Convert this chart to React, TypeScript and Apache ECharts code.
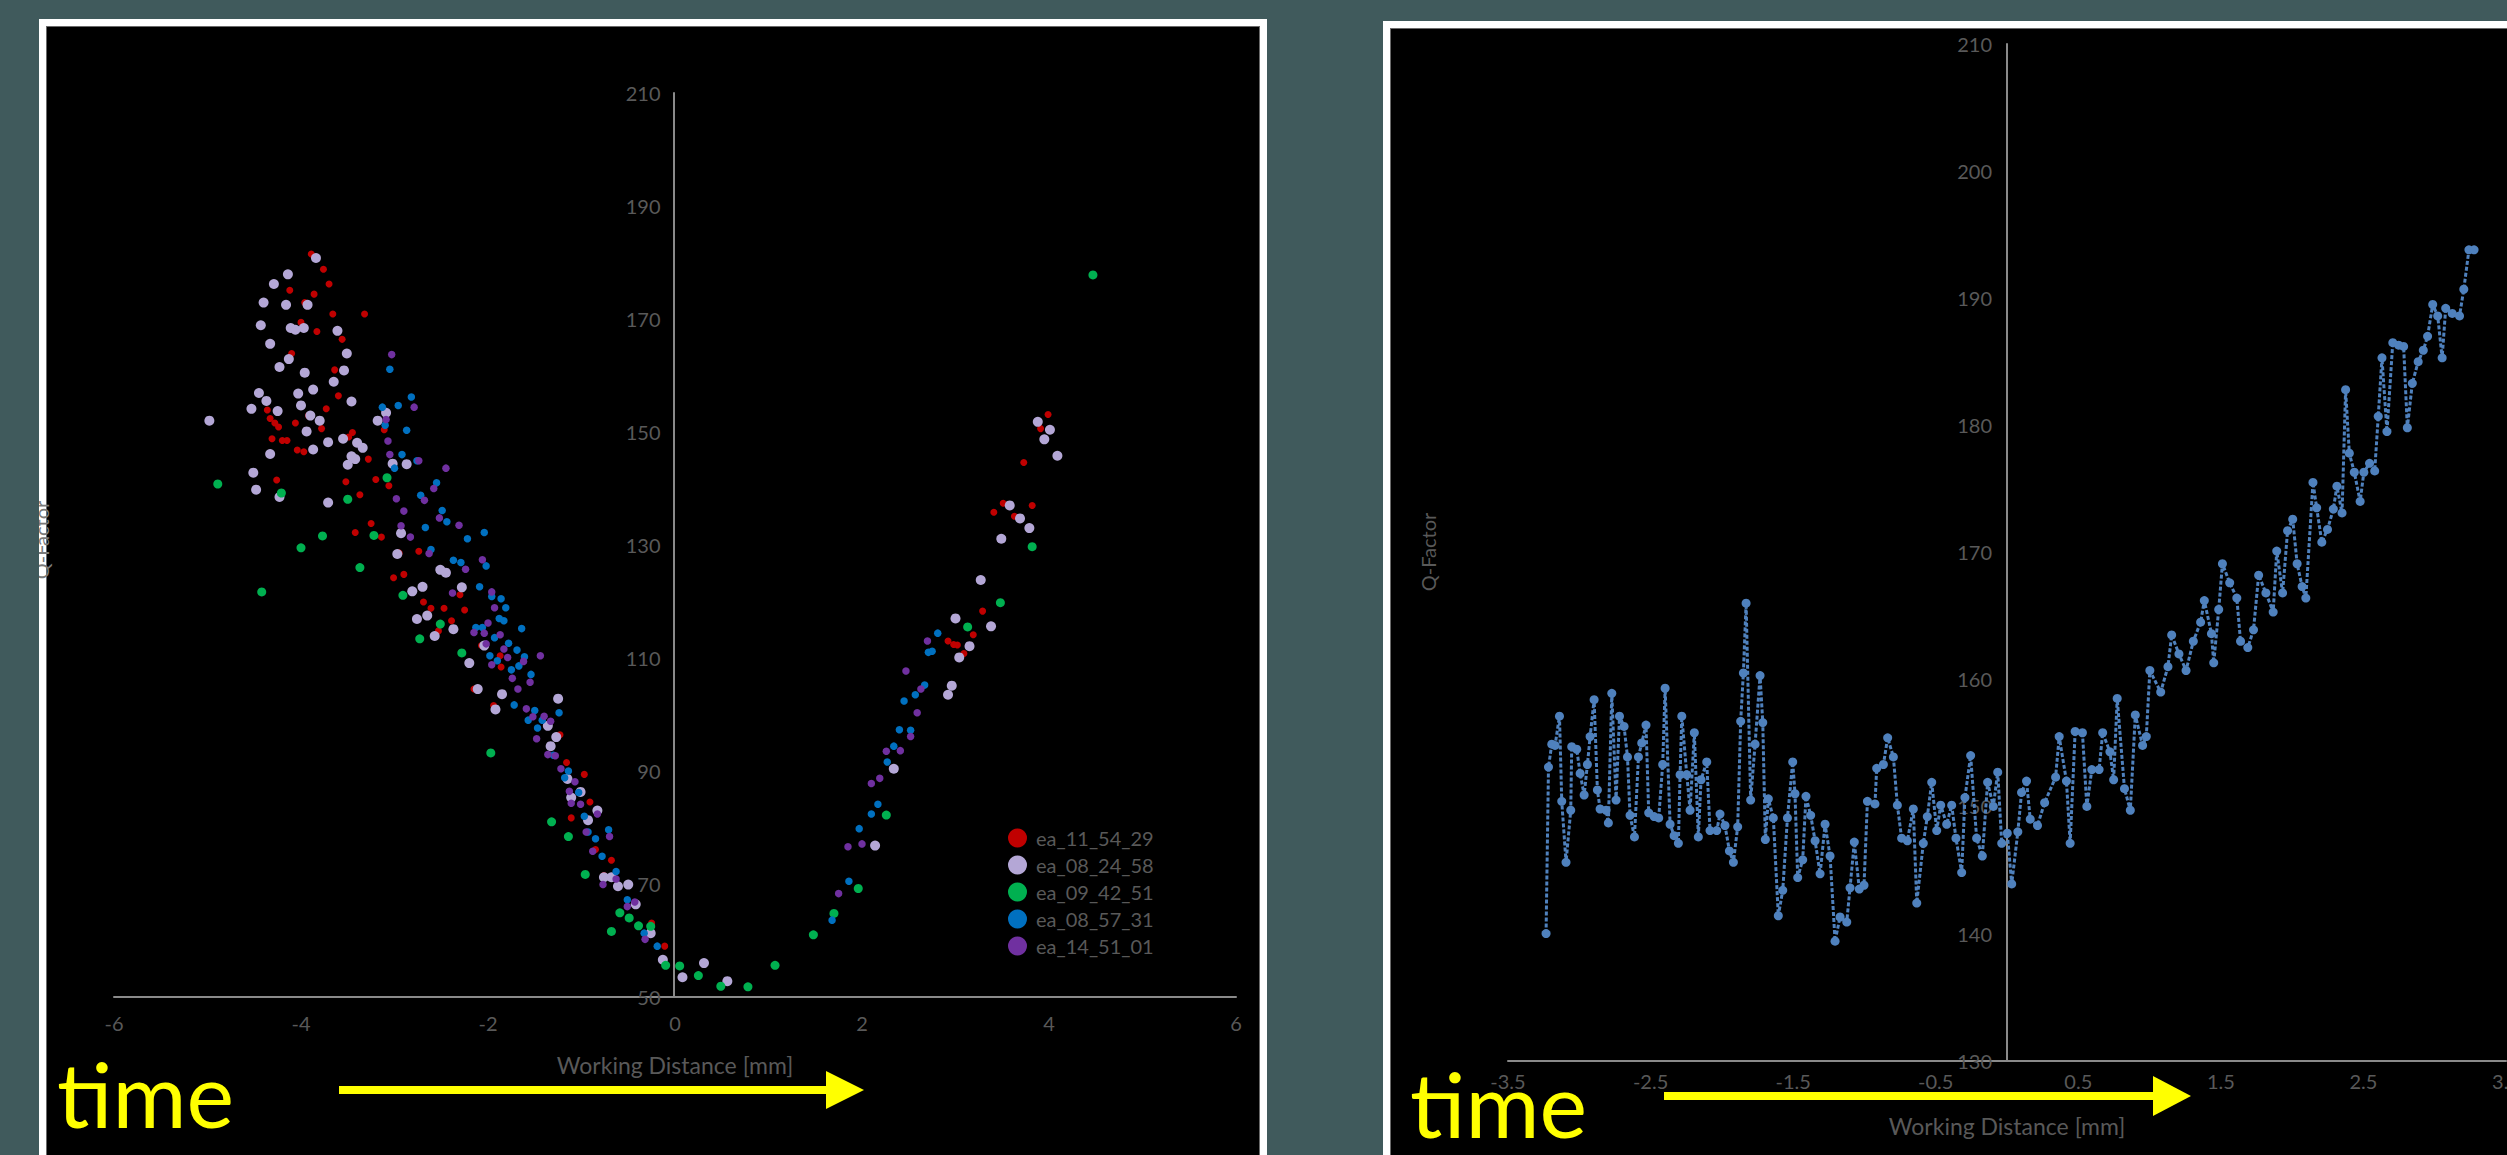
import React, { useEffect, useRef } from "react";
import * as echarts from "echarts";

// ---------- DATA ----------
const seriesNames = ["ea_11_54_29", "ea_08_24_58", "ea_09_42_51", "ea_08_57_31", "ea_14_51_01"];
const seriesColors = ["#c00000", "#b4a7d6", "#00b050", "#0070c0", "#7030a0"];

const ea_11_54_29: number[][] = [
  [-3.89,181.5],[-3.76,178.8],[-3.70,176.2],[-4.12,175.1],[-3.86,174.4],[-4.17,172.5],[-3.96,172.9],[-3.66,170.9],[-3.32,170.9],[-4.00,169.4],
  [-3.83,167.8],[-3.56,166.4],[-4.10,163.9],[-3.64,161.0],[-3.60,156.4],[-3.73,154.1],[-4.36,153.9],[-3.92,152.9],[-4.33,152.4],[-4.28,151.6],
  [-4.24,150.9],[-4.06,151.6],[-3.78,150.6],[-3.45,149.9],[-3.49,149.1],[-4.31,148.8],[-4.20,148.5],[-4.15,148.5],[-4.04,146.8],[-3.97,146.5],
  [-3.28,145.2],[-2.86,144.2],[-3.11,150.4],[-4.26,141.5],[-3.52,141.2],[-3.20,141.6],[-3.06,140.5],[-3.37,138.9],[-3.25,133.8],[-3.42,132.2],
  [-3.14,131.4],[-2.74,128.9],[-2.95,128.6],[-3.01,124.2],[-2.90,124.8],[-2.69,119.9],[-2.61,118.8],[-2.47,118.8],[-2.25,118.5],[-2.39,116.6],
  [-2.30,121.2],[-2.53,114.8],[-2.07,112.2],[-1.87,110.4],[-1.86,108.4],[-2.15,104.5],
  [-1.94,101.6],[-1.23,96.4],[-1.16,91.5],[-0.97,89.4],[-0.91,84.5],[-1.11,81.7],[-0.85,76.1],[-0.68,74.2],[-0.76,71.5],[-0.25,63.1],[-0.11,59.0],
  [3.99,153.1],[3.91,150.6],[3.73,144.6],[3.51,137.4],[3.41,135.8],[3.63,135.1],[3.82,137.0],[3.29,118.3],[3.19,114.1],[2.92,113.0],[2.98,112.4],[3.02,112.3],[3.09,110.8],
];

const ea_08_24_58: number[][] = [
  [-3.84,180.8],[-4.14,177.9],[-4.29,176.2],[-4.40,172.9],[-4.16,172.5],[-3.93,172.5],[-4.43,168.9],[-4.11,168.4],[-4.06,168.1],[-3.97,168.4],
  [-3.61,167.9],[-4.33,165.6],[-3.51,163.9],[-4.13,162.9],[-4.23,161.5],[-3.96,160.5],[-3.54,160.9],[-3.65,158.9],[-3.87,157.5],[-4.45,156.9],
  [-4.03,156.8],[-4.37,155.5],[-3.46,155.4],[-4.00,154.7],[-4.53,154.1],[-4.25,153.7],[-3.90,152.9],[-3.80,152.0],[-4.98,152.0],[-3.09,153.4],
  [-3.18,152.0],[-3.94,150.1],[-3.55,148.8],[-3.71,148.2],[-3.40,148.1],[-3.34,147.2],[-3.87,146.9],[-4.33,146.1],[-3.46,145.7],[-3.42,145.2],
  [-3.02,144.4],[-2.87,144.3],[-3.50,144.2],[-4.51,142.8],[-4.48,139.8],[-4.23,138.5],[-3.71,137.5],[-2.93,132.1],[-2.97,128.4],[-2.51,125.6],
  [-2.45,125.1],[-2.28,122.5],[-2.70,122.6],[-2.81,121.8],[-2.65,117.5],[-2.76,116.9],[-2.37,115.1],[-2.57,113.9],[-2.20,109.1],[-2.04,112.2],
  [-2.11,104.5],[-1.85,103.6],[-1.25,102.8],
  [-1.92,100.9],[-1.36,98.0],[-1.27,96.0],[-1.33,94.4],[-1.15,88.6],[-1.11,85.3],[-1.01,86.3],[-0.83,83.0],[-0.93,81.3],[-0.76,71.2],
  [-0.68,71.2],[-0.61,69.6],[-0.50,69.9],[-0.42,66.4],[-0.26,61.3],[-0.13,56.6],[0.08,53.5],[0.31,56.0],[0.56,52.8],
  [3.88,151.8],[4.01,150.4],[3.95,148.7],[4.09,145.8],[3.58,137.0],[3.69,134.7],[3.79,133.0],[3.49,131.1],[3.27,123.8],[3.00,117.0],
  [3.15,112.1],[3.38,115.6],[3.04,110.1],[2.96,105.1],[2.92,103.5],[2.34,90.4],[2.14,76.8],
];

const ea_09_42_51: number[][] = [
  [-4.89,140.8],[-4.21,139.2],[-3.08,141.9],[-3.50,138.1],[-3.77,131.6],[-4.00,129.5],[-3.22,131.7],[-3.37,126.0],[-4.42,121.7],[-2.91,121.1],
  [-2.51,116.0],[-2.73,113.4],[-2.28,110.9],
  [-1.97,93.2],[-1.32,81.0],[-1.14,78.4],[-0.96,71.7],[-0.68,61.6],[-0.59,64.9],[-0.49,64.0],[-0.39,62.6],[-0.26,62.5],[-0.10,55.6],
  [0.05,55.5],[0.25,53.8],[0.49,51.9],[0.78,51.8],
  [4.47,177.8],[3.82,129.7],[3.48,119.8],[3.13,115.5],[2.26,82.2],[1.96,69.2],[1.70,64.8],[1.48,61.0],[1.07,55.6],
];

const ea_08_57_31: number[][] = [
  [-3.05,161.1],[-2.82,156.2],[-2.96,154.7],[-3.13,154.4],[-3.10,151.2],[-2.87,150.3],[-2.92,146.0],[-3.00,143.6],[-2.76,144.9],[-2.55,141.0],
  [-2.72,138.8],[-2.49,136.1],[-2.44,134.1],[-2.67,133.1],[-2.04,132.2],[-2.22,131.1],[-2.61,129.2],[-2.37,127.3],[-2.29,126.9],[-2.02,126.3],
  [-2.09,122.6],[-1.96,120.9],[-1.86,120.5],[-1.81,118.9],[-1.88,117.0],[-1.83,116.6],[-1.64,115.2],[-2.13,115.4],[-2.06,115.4],[-1.93,113.6],
  [-1.78,112.6],[-1.69,111.4],[-1.98,110.4],[-1.90,109.5],[-1.61,110.2],[-1.67,108.6],[-1.75,107.9],[-1.54,107.1],
  [-1.72,101.7],[-1.50,100.7],[-1.24,100.3],[-1.57,99.0],[-1.47,97.6],[-1.42,99.0],[-1.30,92.8],[-1.14,90.0],[-1.18,88.8],[-1.03,86.2],
  [-0.97,82.0],[-0.93,79.2],[-0.85,78.0],[-0.71,79.6],[-0.78,74.9],[-0.63,72.2],[-0.51,67.2],[-0.33,61.3],[-0.19,59.0],
  [2.81,114.4],[2.75,111.2],[2.71,111.0],[2.67,105.2],[2.57,103.5],[2.45,102.4],[2.40,97.3],[2.52,97.2],[2.34,94.4],[2.27,91.6],
  [2.17,84.1],[2.10,82.4],[1.97,79.8],[1.86,70.5],[1.68,63.6],
];

const ea_14_51_01: number[][] = [
  [-3.03,163.7],[-2.79,154.4],[-3.09,152.2],[-3.07,148.4],[-3.05,146.0],[-2.74,144.9],[-2.45,143.6],[-2.58,140.0],[-2.68,137.9],[-2.98,138.2],
  [-2.90,136.0],[-2.52,134.8],[-2.31,133.5],[-2.93,133.4],[-2.83,131.4],[-2.63,128.5],[-2.06,127.4],[-2.24,125.7],[-2.38,121.5],[-1.96,121.7],
  [-1.93,118.9],[-2.00,116.2],[-1.87,114.1],[-2.15,114.5],[-2.04,114.4],[-2.02,112.5],[-1.83,111.6],[-1.44,110.4],[-1.96,108.8],[-1.79,110.1],
  [-1.62,109.4],[-1.74,106.4],[-1.55,105.7],[-1.68,104.5],
  [-1.59,101.0],[-1.52,99.6],[-1.40,99.7],[-1.33,98.8],[-1.48,95.7],[-1.36,92.9],[-1.28,92.7],[-1.22,90.4],[-1.07,88.1],[-1.13,86.4],
  [-1.11,84.3],[-1.01,84.1],[-0.83,82.4],[-0.95,79.2],[-0.70,78.4],[-0.88,75.8],[-0.77,69.9],[-0.63,70.9],[-0.43,66.8],[-0.51,66.0],[-0.32,60.2],
  [2.70,113.0],[2.47,107.7],[2.63,104.5],[2.59,100.3],[2.52,96.1],[2.41,93.6],[2.26,93.5],[2.19,88.7],[2.10,87.8],[2.00,77.1],[1.85,76.6],[1.75,68.3],
];

const qFactorTrace: number[][] = [
  [-3.233,140.0],[-3.216,153.1],[-3.193,154.9],[-3.170,154.8],[-3.139,157.1],[-3.123,150.4],[-3.093,145.6],[-3.060,149.7],[-3.053,154.7],[-3.018,154.5],
  [-2.994,152.6],[-2.966,150.9],[-2.943,153.3],[-2.924,155.5],[-2.896,158.4],[-2.873,151.3],[-2.854,149.8],[-2.812,149.7],[-2.796,148.7],[-2.772,158.9],
  [-2.742,150.5],[-2.718,157.1],[-2.686,156.3],[-2.662,153.9],[-2.644,149.3],[-2.613,147.6],[-2.585,153.9],[-2.562,155.0],[-2.532,156.4],[-2.513,149.5],
  [-2.475,149.2],[-2.443,149.1],[-2.415,153.3],[-2.398,159.3],[-2.363,148.6],[-2.335,147.7],[-2.305,147.1],[-2.293,152.5],[-2.281,157.1],[-2.246,152.5],
  [-2.223,149.7],[-2.193,155.8],[-2.165,147.6],[-2.146,152.1],[-2.106,153.5],[-2.083,148.1],[-2.036,148.1],[-2.013,149.4],[-1.978,148.5],[-1.947,146.5],
  [-1.919,145.6],[-1.889,148.4],[-1.868,156.7],[-1.849,160.5],[-1.830,166.0],[-1.798,150.5],[-1.767,154.9],[-1.732,160.3],[-1.713,156.6],[-1.695,147.4],
  [-1.674,150.6],[-1.639,149.1],[-1.604,141.4],[-1.573,143.4],[-1.540,149.1],[-1.503,153.5],[-1.487,151.0],[-1.468,144.4],[-1.433,145.8],[-1.410,150.8],
  [-1.377,149.3],[-1.346,147.3],[-1.311,144.7],[-1.276,148.6],[-1.241,146.1],[-1.206,139.4],[-1.171,141.3],[-1.124,140.9],[-1.101,143.6],[-1.071,147.2],
  [-1.036,143.5],[-1.003,143.8],[-0.979,150.4],[-0.926,150.2],[-0.914,153.0],[-0.867,153.3],[-0.837,155.4],[-0.797,153.9],[-0.769,150.1],[-0.739,147.5],
  [-0.699,147.3],[-0.657,149.8],[-0.633,142.4],[-0.587,147.1],[-0.559,149.2],[-0.528,151.9],[-0.493,148.1],[-0.465,150.1],[-0.423,148.6],[-0.388,150.1],
  [-0.358,147.5],[-0.318,144.8],[-0.295,150.7],[-0.255,154.0],[-0.213,147.5],[-0.173,146.1],[-0.136,151.9],[-0.096,150.0],[-0.065,152.7],[-0.037,147.1],
  [0.002,147.9],[0.033,143.9],[0.076,148.0],[0.102,151.1],[0.137,152.0],[0.163,149.0],[0.214,148.5],[0.264,150.3],[0.341,152.3],[0.366,155.5],
  [0.417,152.0],[0.443,147.1],[0.478,155.9],[0.529,155.8],[0.560,150.0],[0.595,152.9],[0.646,152.9],[0.671,155.8],[0.722,154.3],[0.748,152.1],
  [0.773,158.5],[0.824,151.4],[0.865,149.7],[0.900,157.2],[0.951,154.8],[0.977,155.5],[1.002,160.7],[1.078,159.0],[1.129,161.0],[1.155,163.5],
  [1.206,162.0],[1.256,160.7],[1.307,163.0],[1.358,164.5],[1.384,166.2],[1.434,163.6],[1.450,161.3],[1.485,165.5],[1.511,169.1],[1.562,167.6],
  [1.612,166.4],[1.638,163.0],[1.689,162.5],[1.729,163.9],[1.765,168.2],[1.816,166.8],[1.867,165.3],[1.892,170.1],[1.933,166.8],[1.968,171.7],
  [2.004,172.6],[2.035,169.1],[2.070,167.3],[2.096,166.4],[2.146,175.5],[2.172,173.5],[2.208,170.8],[2.248,171.8],[2.289,173.4],[2.314,175.2],
  [2.350,173.1],[2.375,182.8],[2.401,177.8],[2.436,176.3],[2.477,174.0],[2.503,176.3],[2.543,177.0],[2.579,176.4],[2.604,180.7],[2.630,185.3],
  [2.665,179.5],[2.706,186.5],[2.747,186.3],[2.782,186.2],[2.808,179.8],[2.843,183.3],[2.884,185.0],[2.920,185.9],[2.950,187.0],[2.986,189.5],
  [3.021,188.6],[3.052,185.3],[3.077,189.2],[3.123,188.8],[3.174,188.6],[3.204,190.7],[3.240,193.8],[3.276,193.8],
];

const scatterData = [ea_11_54_29, ea_08_24_58, ea_09_42_51, ea_08_57_31, ea_14_51_01];
const scatterSizes = [7, 10, 9, 7.5, 7.5];

// ---------- STYLES ----------
const BG = "#405a5c";
const LABEL = "#595959";
const AXIS = "#8a8a8a";
const FONT = "Lato, 'Open Sans', sans-serif";

function buildOption() {
  const tickLabel = (margin: number) => ({ color: LABEL, fontFamily: FONT, fontSize: 20, margin });
  const axisLine = (onZero: boolean) => ({ onZero, lineStyle: { color: AXIS, width: 2 } });
  return {
    animation: false,
    backgroundColor: "transparent",
    grid: [
      { left: 114, top: 93, width: 1122, height: 904, containLabel: false, outerBoundsMode: "none" },
      { left: 1508, top: 44, width: 998, height: 1016.6, containLabel: false, outerBoundsMode: "none" },
    ],
    xAxis: [
      {
        type: "value", gridIndex: 0, min: -6, max: 6, interval: 2,
        axisLine: axisLine(false), axisTick: { show: false }, splitLine: { show: false },
        axisLabel: tickLabel(16),
        name: "Working Distance [mm]", nameLocation: "middle", nameGap: 56,
        nameTextStyle: { color: LABEL, fontFamily: FONT, fontSize: 23 },
      },
      {
        type: "value", gridIndex: 1, min: -3.5, max: 3.5, interval: 1,
        axisLine: axisLine(false), axisTick: { show: false }, splitLine: { show: false },
        axisLabel: tickLabel(10),
        name: "Working Distance [mm]", nameLocation: "middle", nameGap: 54,
        nameTextStyle: { color: LABEL, fontFamily: FONT, fontSize: 23 },
      },
    ],
    yAxis: [
      {
        type: "value", gridIndex: 0, min: 50, max: 210, interval: 20, position: "left", offset: -559.5,
        axisLine: axisLine(false), axisTick: { show: false }, splitLine: { show: false },
        axisLabel: tickLabel(13),
      },
      {
        type: "value", gridIndex: 1, min: 130, max: 210, interval: 10, position: "left", offset: -499,
        axisLine: axisLine(false), axisTick: { show: false }, splitLine: { show: false },
        axisLabel: tickLabel(15),
      },
    ],
    legend: {
      data: seriesNames,
      orient: "vertical",
      left: 1008,
      top: 828,
      padding: 0,
      itemWidth: 19,
      itemHeight: 19,
      itemGap: 7,
      icon: "circle",
      textStyle: { color: LABEL, fontFamily: FONT, fontSize: 20, lineHeight: 19, padding: [0, 0, 0, 4] },
    },
    series: [
      ...seriesNames.map((name, i) => ({
        name,
        type: "scatter",
        xAxisIndex: 0,
        yAxisIndex: 0,
        data: scatterData[i],
        symbol: "circle",
        symbolSize: scatterSizes[i],
        itemStyle: { color: seriesColors[i], opacity: 1 },
      })),
      {
        name: "Q-Factor trace",
        type: "line",
        xAxisIndex: 1,
        yAxisIndex: 1,
        data: qFactorTrace,
        symbol: "circle",
        symbolSize: 9,
        showSymbol: true,
        lineStyle: { color: "#4f81bd", width: 3, type: [4, 2] },
        itemStyle: { color: "#4f81bd" },
      },
    ],
    graphic: [
      {
        type: "text", x: 41, y: 540, rotation: Math.PI / 2, z: 90,
        style: { text: "Q-Factor", fill: "#7a7a7a", font: `20px ${FONT}`, align: "center", verticalAlign: "middle" },
      },
      { type: "rect", z: 95, shape: { x: 0, y: 440, width: 39, height: 200 }, style: { fill: BG } },
      {
        type: "text", x: 1428, y: 552, rotation: Math.PI / 2, z: 90,
        style: { text: "Q-Factor", fill: LABEL, font: `20px ${FONT}`, align: "center", verticalAlign: "middle" },
      },
      {
        type: "text", x: 57, y: 1093, z: 100,
        style: { text: "time", fill: "#ffff00", font: `90px ${FONT}`, align: "left", verticalAlign: "middle" },
      },
      { type: "rect", z: 100, shape: { x: 339, y: 1086, width: 488, height: 8 }, style: { fill: "#ffff00" } },
      { type: "polygon", z: 100, shape: { points: [[826, 1071], [864, 1090], [826, 1109]] }, style: { fill: "#ffff00" } },
      {
        type: "text", x: 1410, y: 1103, z: 100,
        style: { text: "time", fill: "#ffff00", font: `90px ${FONT}`, align: "left", verticalAlign: "middle" },
      },
      { type: "rect", z: 100, shape: { x: 1664, y: 1092, width: 490, height: 8 }, style: { fill: "#ffff00" } },
      { type: "polygon", z: 100, shape: { points: [[2153, 1076], [2191, 1096], [2153, 1116]] }, style: { fill: "#ffff00" } },
    ],
  };
}

export default function App() {
  const ref = useRef<HTMLDivElement>(null);
  useEffect(() => {
    document.body.style.margin = "0";
    document.documentElement.style.overflow = "hidden";
    const chart = echarts.init(ref.current!, null, { renderer: "svg" });
    chart.setOption(buildOption() as any);
    return () => chart.dispose();
  }, []);
  return (
    <div style={{ position: "relative", width: 2507, height: 1155, background: BG, overflow: "hidden" }}>
      <div
        style={{
          position: "absolute", left: 39, top: 19, width: 1228, height: 1200, boxSizing: "border-box",
          border: "7px solid #ffffff", background: "#000", boxShadow: "inset 0 0 0 1px #6a6a6a",
        }}
      />
      <div
        style={{
          position: "absolute", left: 1383, top: 21, width: 1200, height: 1200, boxSizing: "border-box",
          borderLeft: "7px solid #ffffff", borderTop: "7px solid #ffffff", background: "#000",
          boxShadow: "inset 1px 1px 0 0 #6a6a6a",
        }}
      />
      <div ref={ref} style={{ position: "absolute", left: 0, top: 0, width: 2507, height: 1155 }} />
    </div>
  );
}
